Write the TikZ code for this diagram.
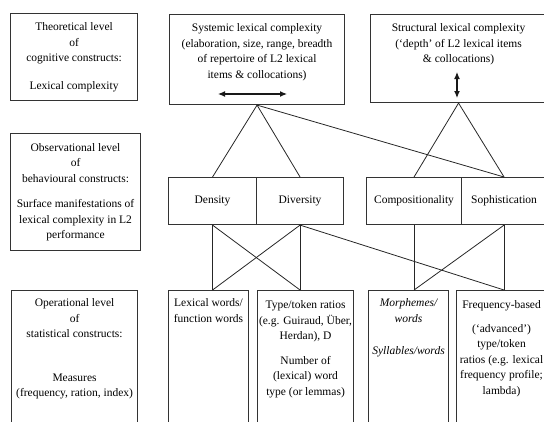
\documentclass[tikz,border=0pt]{standalone}
\usepackage{fontspec}
\setmainfont{Liberation Serif}
\usetikzlibrary{positioning,arrows.meta}

\begin{document}
\begin{tikzpicture}[x=1pt, y=-1pt,
    every node/.style={font=\fontsize{11.5}{15.5}\selectfont, align=center, inner sep=0pt},
    box/.style={draw=black!80, line width=1.1pt, anchor=north west},
    link/.style={draw=black!85, line width=0.8pt},
    dbl/.style={draw=black!90, line width=1.2pt, {Latex[length=7pt,width=6pt]}-{Latex[length=7pt,width=6pt]}}]
    % Parameters
    \def\midtop{177}
    \def\midht{47pt}
    \def\lowtop{290}
    \def\lowht{160pt}

    \useasboundingbox (0,0) rectangle (544,421);
    \clip (0,0) rectangle (544,421);

    % Levels (left column)
    \node[box, minimum width=127pt, minimum height=87pt] (theo) at (10,13)
        {Theoretical level\\ of\\ cognitive constructs:\\[12pt] Lexical complexity};
    \node[box, minimum width=130pt, minimum height=117pt] (obs) at (10,133)
        {Observational level\\ of\\ behavioural constructs:\\[10pt] Surface manifestations of\\ lexical complexity in L2\\ performance};
    \node[box, minimum width=126pt, minimum height=\lowht] (op) at (11,\lowtop) {};
    \node[below=8.5pt of op.north] (optxt)
        {Operational level\\ of\\ statistical constructs:\\[28pt] Measures\\ (frequency, ration, index)};

    % Theoretical level
    \node[box, minimum width=175pt, minimum height=90pt] (sys) at (169,14) {};
    \node[below=9.5pt of sys.north] (systxt)
        {Systemic lexical complexity\\ (elaboration, size, range, breadth\\ of repertoire of L2 lexical\\ items \& collocations)};
    \coordinate (sysL) at (218,94);
    \coordinate (sysR) at (287,94);
    \draw[dbl] (sysL) -- (sysR);

    \node[box, minimum width=176pt, minimum height=88pt] (struct) at (370,14) {};
    \node[below=9.5pt of struct.north] (structtxt)
        {Structural lexical complexity\\ (‘depth’ of L2 lexical items\\ \& collocations)};
    \coordinate (structU) at (457,72);
    \coordinate (structD) at (457,98);
    \draw[dbl] (structU) -- (structD);

    % Observational level
    \node[box, minimum width=88pt, minimum height=\midht] (dens) at (168,\midtop) {Density};
    \node[box, minimum width=87pt, minimum height=\midht] (div) at (256,\midtop) {Diversity};
    \node[box, minimum width=95pt, minimum height=\midht] (comp) at (366,\midtop) {Compositionality};
    \node[box, minimum width=85pt, minimum height=\midht] (soph) at (461,\midtop) {Sophistication};

    % Operational level
    \node[box, minimum width=80pt, minimum height=\lowht] (lexw) at (168,\lowtop) {};
    \node[below=8.5pt of lexw.north] (lexwtxt) {Lexical words/\\ function words};
    \node[box, minimum width=96pt, minimum height=\lowht] (ttr) at (257,\lowtop) {};
    \node[below=10.5pt of ttr.north] (ttrtxt)
        {Type/token ratios\\ (e.g. Guiraud, Über,\\ Herdan), D\\[9pt] Number of\\ (lexical) word\\ type (or lemmas)};
    \node[box, minimum width=80pt, minimum height=\lowht] (morph) at (368,\lowtop) {};
    \node[below=8.5pt of morph.north, font=\fontsize{11.5}{15.5}\selectfont\itshape] (morphtxt)
        {Morphemes/\\ words\\[17pt] Syllables/words};
    \node[box, minimum width=90pt, minimum height=\lowht] (freq) at (456,\lowtop) {};
    \node[below=10.5pt of freq.north] (freqtxt)
        {Frequency-based\\[8pt] (‘advanced’)\\ type/token\\ ratios (e.g. lexical\\ frequency profile;\\ lambda)};

    % Links theoretical -> observational
    \foreach \src/\dst in {sys/dens, sys/div, sys/soph, struct/comp, struct/soph}
        \draw[link] (\src.south) -- (\dst.north);

    % Links observational -> operational
    \coordinate (lexwtop) at (dens.south |- lexw.north);
    \coordinate (ttrtop) at (div.south |- ttr.north);
    \coordinate (morphtop) at (comp.south |- morph.north);
    \coordinate (freqtop) at (soph.south |- freq.north);
    \foreach \src/\dst in {dens/lexwtop, dens/ttrtop, div/ttrtop, div/lexwtop, div/freqtop, comp/morphtop, soph/morphtop, soph/freqtop}
        \draw[link] (\src.south) -- (\dst);
\end{tikzpicture}
\end{document}
